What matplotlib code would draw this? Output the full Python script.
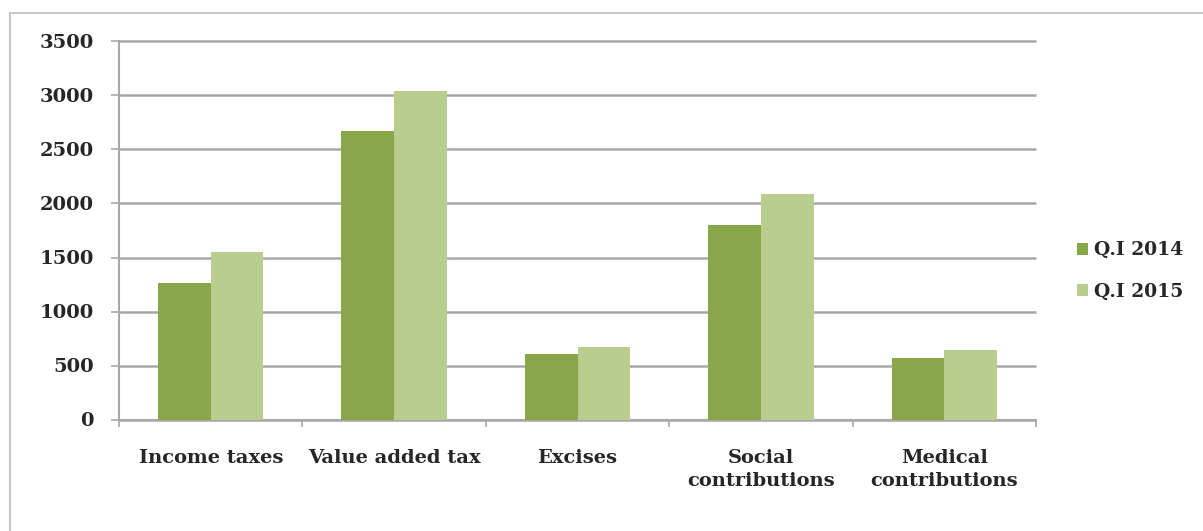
import matplotlib
matplotlib.use("Agg")
import matplotlib.pyplot as plt
from matplotlib.patches import Rectangle
import numpy as np

categories = ["Income taxes", "Value added tax", "Excises", "Social\ncontributions", "Medical\ncontributions"]
series_names = ["Q.I 2014", "Q.I 2015"]
q1_2014 = [1260, 2675, 605, 1800, 567]
q1_2015 = [1555, 3045, 675, 2085, 643]
y_ticks = [0, 500, 1000, 1500, 2000, 2500, 3000, 3500]

dark = "#8aa64a"
light = "#b9cd8f"
grid_c = "#a8a8a8"

plt.rcParams['font.family'] = ['DejaVu Serif']
plt.rcParams['font.weight'] = 'bold'

fig = plt.figure(figsize=(12.03, 5.31), dpi=100)
fig.patch.set_facecolor("white")
# outer frame (top and left visible)
fig.add_artist(Rectangle((10/1203, -0.1), 1.5, 1 - 13/531 + 0.1, transform=fig.transFigure,
                         fill=False, edgecolor="#c8c8c8", linewidth=1.5))

ax = fig.add_axes([119/1203, 1 - 419.5/531, (1036-119)/1203, (419.5-41.5)/531])
x = np.arange(len(categories))
w = 0.287
ax.bar(x - w/2, q1_2014, width=w, color=dark, label=series_names[0], zorder=3)
ax.bar(x + w/2, q1_2015, width=w, color=light, label=series_names[1], zorder=3)

ax.set_xlim(-0.5, len(categories) - 0.5)
ax.set_ylim(0, 3500)
ax.set_yticks(y_ticks)
ax.set_yticklabels([str(v) for v in y_ticks])
ax.yaxis.grid(True, color=grid_c, linewidth=1.8, zorder=0)
for gl in ax.get_ygridlines():
    gl.set_clip_on(False)
    gl.set_solid_capstyle("butt")
ax.set_axisbelow(True)

for s in ["top", "right"]:
    ax.spines[s].set_visible(False)
for s in ["left", "bottom"]:
    ax.spines[s].set_color(grid_c)
    ax.spines[s].set_linewidth(1.5)

ax.set_xticks(x)
ax.set_xticklabels(categories, fontsize=14, color="#262626", linespacing=1.35)
ax.tick_params(axis="x", which="major", length=0, pad=21)
ax.set_xticks(np.arange(-0.5, len(categories), 1.0), minor=True)
ax.tick_params(axis="x", which="minor", length=5, color=grid_c, width=1.2, direction="out")
ax.tick_params(axis="y", length=6, color=grid_c, width=1.2, pad=12, labelsize=14, labelcolor="#262626")

leg = fig.legend(loc="center left", bbox_to_anchor=(1077/1203, 1 - 271/531), frameon=False,
                 fontsize=13.5, handlelength=0.6, handleheight=0.6, handletextpad=0.3,
                 labelspacing=1.25, borderpad=0, borderaxespad=0)
for t in leg.get_texts():
    t.set_color("#262626")

fig.savefig("out.png", dpi=100, facecolor="white")
